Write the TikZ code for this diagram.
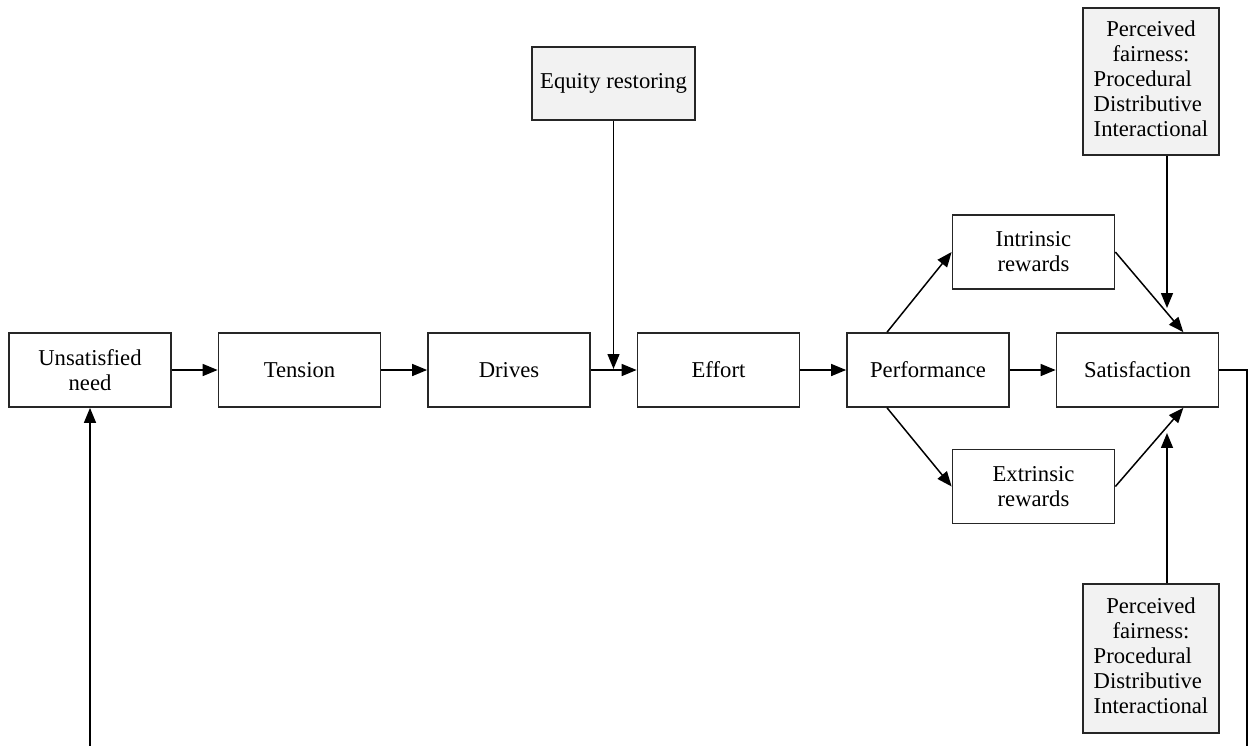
\documentclass[tikz,border=0pt]{standalone}
\usepackage{fontspec}
\setmainfont{Liberation Serif}
\usetikzlibrary{arrows.meta,calc}
\tikzset{
  box/.style={draw=black!85, line width=1pt, fill=white, inner sep=0pt,
    minimum width=3.24cm, minimum height=1.48cm, align=center,
    font=\fontsize{12.9}{14.2}\selectfont},
  graybox/.style={box, fill=black!5},
  conn/.style={line width=0.85pt, -{Triangle[length=8.5pt,width=6.8pt]}},
  plain/.style={line width=0.85pt}
}
\begin{document}
\begin{tikzpicture}[x=0.02cm,y=-0.02cm]
\useasboundingbox (0,0) rectangle (1252,745);
\clip (0,0) rectangle (1252,745);
% main row
\node[box] (un) at (90,370) {Unsatisfied\\need};
\node[box] (ten) at (299.5,370) {Tension};
\node[box] (dr) at (509,370) {Drives};
\node[box] (ef) at (718.5,370) {Effort};
\node[box] (perf) at (928,370) {Performance};
\node[box] (sat) at (1137.5,370) {Satisfaction};
\node[box] (intr) at (1033.5,252) {Intrinsic\\rewards};
\node[box] (extr) at (1033.5,486.5) {Extrinsic\\rewards};
% gray boxes
\node[graybox, minimum width=3.26cm, minimum height=1.46cm] (eq) at (613.5,83.5) {Equity restoring};
\node[graybox, minimum width=2.72cm, minimum height=2.94cm] (pf1) at (1151,81.5)
  {\begin{tabular}{@{}l@{}}\multicolumn{1}{@{}c@{}}{Perceived}\\\multicolumn{1}{@{}c@{}}{fairness:}\\Procedural\\Distributive\\Interactional\end{tabular}};
\node[graybox, minimum width=2.72cm, minimum height=2.98cm] (pf2) at (1151,658.5)
  {\begin{tabular}{@{}l@{}}\multicolumn{1}{@{}c@{}}{Perceived}\\\multicolumn{1}{@{}c@{}}{fairness:}\\Procedural\\Distributive\\Interactional\end{tabular}};
% helper coordinates
\coordinate (t1) at (1167,308);
\coordinate (t2) at (1167,433);
\coordinate (fb1) at (1247,370);
\coordinate (fb2) at (1247,770);
\coordinate (fb3) at (90,770);
% connectors
\draw[conn] (un.east) -- (ten.west);
\draw[conn] (ten.east) -- (dr.west);
\draw[conn] (dr.east) -- (ef.west);
\draw[conn] (ef.east) -- (perf.west);
\draw[conn] (perf.east) -- (sat.west);
\draw[conn] (eq.south) -- ([yshift=0.6pt]eq.south |- dr.east);
\draw[conn] ($(perf.north west)!0.25!(perf.north east)$) -- (intr.west);
\draw[conn] ($(perf.south west)!0.25!(perf.south east)$) -- (extr.west);
\draw[conn] (intr.east) -- ($(sat.north west)!0.78!(sat.north east)$);
\draw[conn] (extr.east) -- ($(sat.south west)!0.78!(sat.south east)$);
\draw[conn] (t1 |- pf1.south) -- (t1);
\draw[conn] (t2 |- pf2.north) -- (t2);
\draw[conn] (sat.east) -- (fb1) -- (fb2) -- (fb3) -- (un.south);
\end{tikzpicture}
\end{document}
